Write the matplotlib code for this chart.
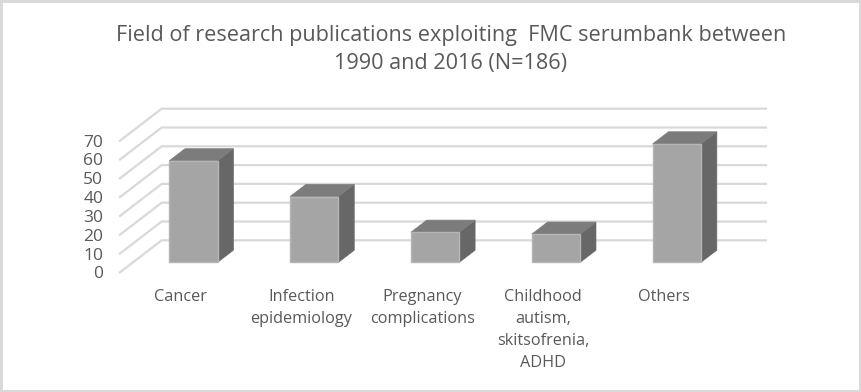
import matplotlib
matplotlib.use("Agg")
import matplotlib.pyplot as plt
from matplotlib.patches import Polygon, Rectangle

W, H = 861, 392

categories = ["Cancer", "Infection\nepidemiology", "Pregnancy\ncomplications",
              "Childhood\nautism,\nskitsofrenia,\nADHD", "Others"]
values = [54, 35, 16, 15, 63]
y_ticks = [0, 10, 20, 30, 40, 50, 60, 70]
title = "Field of research publications exploiting  FMC serumbank between\n1990 and 2016 (N=186)"

TEXT = "#595959"
GRID = "#D9D9D9"
FRONT = "#A5A5A5"
TOP = "#7C7C7C"
SIDE = "#676767"

# depth of the floor in category / value units
DEPTH_X = 41.7 / 120.9
DEPTH_Y = 320.0 / 18.8

plt.rcParams["font.family"] = ["Open Sans", "DejaVu Sans"]

fig = plt.figure(figsize=(W / 100, H / 100), dpi=100)
fig.patches.append(Rectangle((0, 0), 1, 1, transform=fig.transFigure, fill=False,
                             ec=GRID, lw=3.5))

# axes box is the front plane of the 3d floor
x0, x1, y0, y1 = 120, 724.3, 272.3, 140.7
ax = fig.add_axes([x0 / W, 1 - y0 / H, (x1 - x0) / W, (y0 - y1) / H])
ax.set_xlim(0, len(categories))
ax.set_ylim(0, 70)
for s in ax.spines.values():
    s.set_visible(False)
ax.patch.set_visible(False)


def proj(x, v, d):
    return x + d * DEPTH_X, v + d * DEPTH_Y


# side wall and back wall gridlines
for t in y_ticks:
    a = proj(0, t, 0)
    b = proj(0, t, 1)
    c = proj(len(categories), t, 1)
    ax.plot([a[0], b[0], c[0]], [a[1], b[1], c[1]], color=GRID, lw=1.6,
            clip_on=False, zorder=1, solid_joinstyle="miter")

# bars, depth from 0.31 to 0.69 of the floor
for i, v in enumerate(values):
    l, r = i + 0.3, i + 0.7
    d0, d1 = 0.31, 0.69
    front = [proj(l, 0, d0), proj(r, 0, d0), proj(r, v, d0), proj(l, v, d0)]
    side = [proj(r, 0, d0), proj(r, 0, d1), proj(r, v, d1), proj(r, v, d0)]
    top = [proj(l, v, d0), proj(r, v, d0), proj(r, v, d1), proj(l, v, d1)]
    ax.add_patch(Polygon(side, fc=SIDE, ec=SIDE, lw=0.5, clip_on=False, zorder=3))
    ax.add_patch(Polygon(top, fc=TOP, ec=TOP, lw=0.5, clip_on=False, zorder=3))
    ax.add_patch(Polygon(front, fc=FRONT, ec="#B5B5B5", lw=1, clip_on=False, zorder=4))

ax.set_yticks(y_ticks)
ax.set_yticklabels([str(t) for t in y_ticks], fontsize=12.5, color=TEXT)
ax.tick_params(axis="y", length=0, pad=12)
ax.set_xticks([i + 0.5 for i in range(len(categories))])
ax.set_xticklabels(categories, fontsize=11.7, color=TEXT, linespacing=1.5, va="top")
ax.tick_params(axis="x", length=0, pad=12)

fig.text(451 / W, 1 - 49.5 / H, title, ha="center", va="center", fontsize=15.6,
         color=TEXT, linespacing=1.4)

fig.savefig("out.png", dpi=100)
